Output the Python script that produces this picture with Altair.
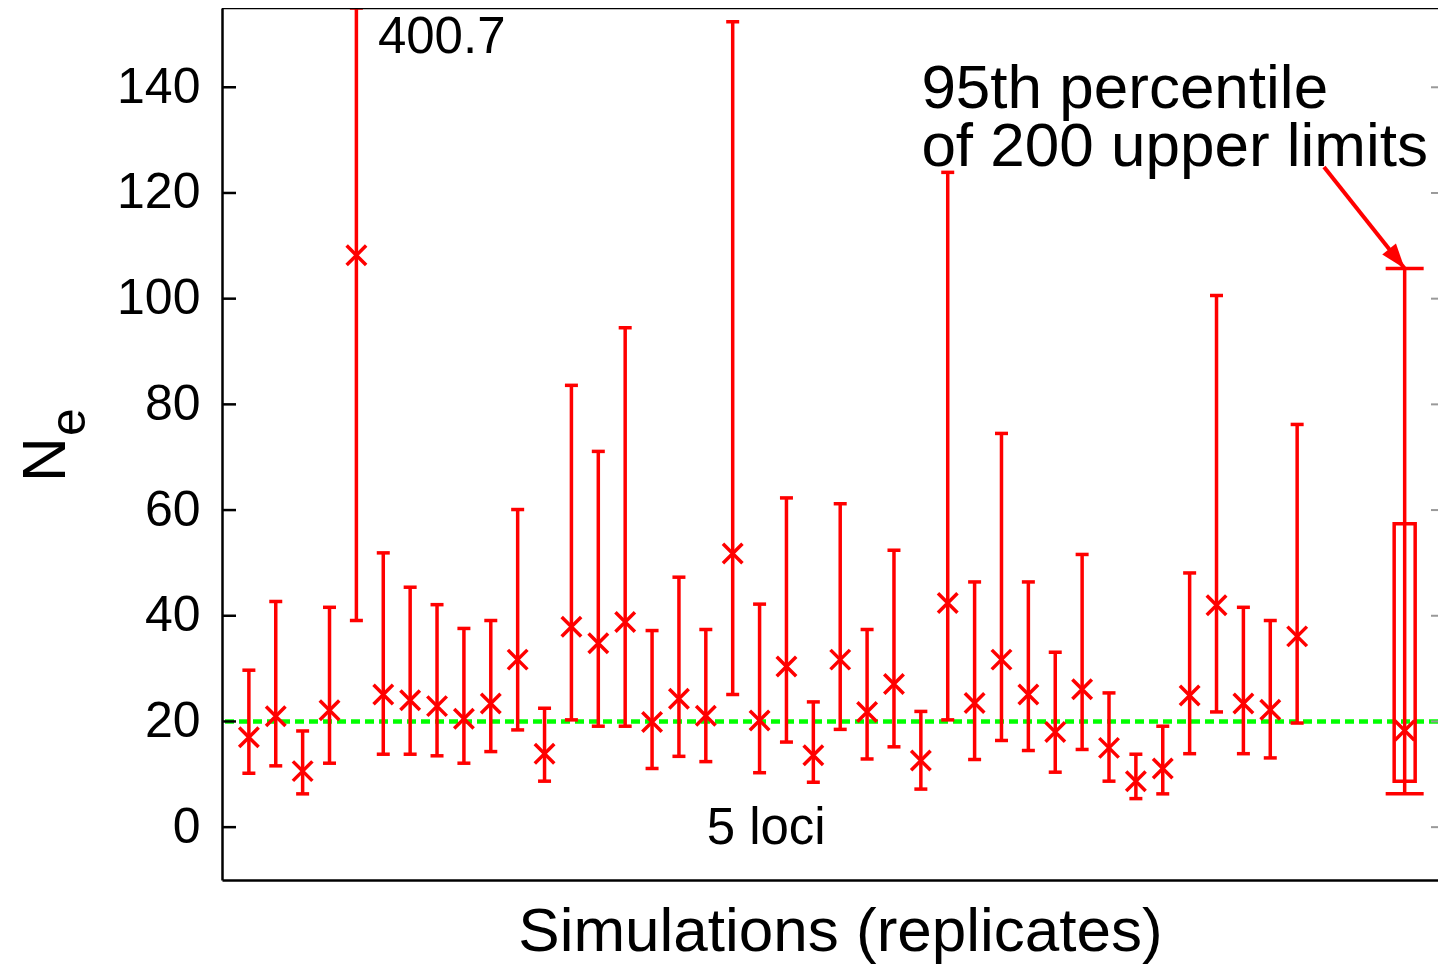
import altair as alt
import pandas as pd

# ---------------- data ----------------
replicate = list(range(1, 41))
ne_point = [17.0, 21.0, 10.6, 22.1, 108.2, 25.1, 24.0, 22.9, 20.5, 23.4,
            31.7, 13.9, 37.9, 34.8, 38.8, 19.9, 24.3, 21.1, 51.8, 20.2,
            30.4, 13.6, 31.7, 21.8, 27.1, 12.6, 42.4, 23.5, 31.7, 25.1,
            18.0, 26.1, 15.0, 8.7, 11.1, 24.9, 42.0, 23.4, 22.2, 36.1]
ne_lower = [10.2, 11.6, 6.3, 12.1, 39.1, 13.8, 13.8, 13.5, 12.1, 14.3,
            18.4, 8.7, 20.3, 19.1, 19.1, 11.1, 13.4, 12.4, 25.1, 10.3,
            16.1, 8.5, 18.5, 12.9, 15.2, 7.2, 20.3, 12.8, 16.4, 14.5,
            10.4, 14.7, 8.7, 5.4, 6.3, 13.9, 21.8, 13.9, 13.1, 19.7]
ne_upper = [29.7, 42.7, 18.2, 41.6, 400.7, 51.9, 45.4, 42.1, 37.6, 39.1,
            60.1, 22.5, 83.6, 71.1, 94.5, 37.2, 47.3, 37.4, 152.4, 42.2,
            62.3, 23.7, 61.2, 37.4, 52.4, 21.9, 123.9, 46.4, 74.5, 46.4,
            33.1, 51.6, 25.4, 13.8, 19.1, 48.1, 100.6, 41.6, 39.1, 76.2]

summary_pos = [44]
summary_median = [18.3]
summary_box_low = [8.7]
summary_box_high = [57.4]
summary_whisker_low = [6.3]
summary_whisker_high = [105.7]

true_ne = [20]
y_ticks = [0, 20, 40, 60, 80, 100, 120, 140]

arrow_from = [41.0, 124.9]
arrow_to = [44, 105.7]

small_labels = [f"{ne_upper[4]}", "5 loci"]
small_x = [5.80, 18.03]
small_y = [146.5, -3.2]
big_labels = ["95th percentile", "of 200 upper limits"]
big_x = [26.02, 26.02]
big_y = [136.0, 125.1]

# ---------------- styling ----------------
W, H = 1216, 872
RED = "#ff0000"
GREEN = "#00ff00"
FONT = "Liberation Sans"
XPATH = "M-1,-1L1,1M-1,1L1,-1"
ARROW = "M0,0L0.35,1L-0.35,1Z"
LW = 3.5

xs = alt.Scale(domain=[0, 45.24], nice=False, zero=False, padding=0)
ys = alt.Scale(domain=[-10, 155], nice=False, zero=False, clamp=True, padding=0)

x_axis = alt.Axis(
    orient="bottom", labels=False, ticks=False, tickSize=0, grid=False,
    domain=True, domainColor="black", domainWidth=2.5,
    title="Simulations (replicates)", titleFont=FONT, titleFontSize=62,
    titleFontWeight="normal", titleColor="black", titlePadding=21,
    titleX=618, titleAlign="center")
y_axis = alt.Axis(
    orient="left", values=y_ticks, grid=False, ticks=False, tickSize=0,
    labelFont=FONT, labelFontSize=50, labelColor="black", labelPadding=22,
    domain=True, domainColor="black", domainWidth=2.5, title=None)

df = pd.DataFrame({"rep": replicate, "ne": ne_point, "lo": ne_lower, "hi": ne_upper})
sm = pd.DataFrame({"rep": summary_pos, "med": summary_median,
                   "blo": summary_box_low, "bhi": summary_box_high,
                   "wlo": summary_whisker_low, "whi": summary_whisker_high})
gdf = pd.DataFrame({"y": true_ne})
adf = pd.DataFrame({"x": [arrow_from[0]], "y": [arrow_from[1]],
                    "x2": [arrow_to[0]], "y2": [arrow_to[1]]})
sdf = pd.DataFrame({"x": small_x, "y": small_y, "label": small_labels})
bdf = pd.DataFrame({"x": big_x, "y": big_y, "label": big_labels})
tdf = pd.DataFrame({"t": y_ticks})
one = pd.DataFrame({"a": [0]})


def X(field):
    return alt.X(field, type="quantitative", scale=xs, axis=x_axis,
                 title="Simulations (replicates)")


def Y(field):
    return alt.Y(field, type="quantitative", scale=ys, axis=y_axis, title=None)


green = alt.Chart(gdf).mark_rule(color=GREEN, strokeWidth=4.5, strokeDash=[9, 5]).encode(
    y=Y("y")
)

bars = alt.Chart(df).mark_rule(color=RED, strokeWidth=LW).encode(
    x=X("rep"), y=Y("lo"), y2="hi:Q")
cap_lo = alt.Chart(df).mark_tick(orient="horizontal", size=13, thickness=LW,
                                 color=RED, opacity=1).encode(x=X("rep"), y=Y("lo"))
cap_hi = alt.Chart(df).mark_tick(orient="horizontal", size=13, thickness=LW,
                                 color=RED, opacity=1).encode(x=X("rep"), y=Y("hi"))
pts = alt.Chart(df).mark_point(shape=XPATH, size=380, filled=False, strokeWidth=LW,
                               color=RED, opacity=1).encode(x=X("rep"), y=Y("ne"))

box = alt.Chart(sm).mark_bar(size=21, filled=False, color=RED, strokeWidth=LW).encode(
    x=X("rep"), y=Y("blo"), y2="bhi:Q")
whisk = alt.Chart(sm).mark_rule(color=RED, strokeWidth=LW).encode(
    x=X("rep"), y=Y("wlo"), y2="whi:Q")
wcap_lo = alt.Chart(sm).mark_tick(orient="horizontal", size=38, thickness=LW,
                                  color=RED, opacity=1).encode(x=X("rep"), y=Y("wlo"))
wcap_hi = alt.Chart(sm).mark_tick(orient="horizontal", size=38, thickness=LW,
                                  color=RED, opacity=1).encode(x=X("rep"), y=Y("whi"))
med = alt.Chart(sm).mark_point(shape=XPATH, size=380, filled=False, strokeWidth=LW,
                               color=RED, opacity=1).encode(x=X("rep"), y=Y("med"))

arrow_line = alt.Chart(adf).mark_rule(color=RED, strokeWidth=4).encode(
    x=X("x"), y=Y("y"), x2="x2:Q", y2="y2:Q")
arrow_head = alt.Chart(adf).mark_point(shape=ARROW, size=2500, filled=True, color=RED,
                                       opacity=1, angle=141.5, strokeWidth=0).encode(
    x=X("x2"), y=Y("y2"))

small_text = alt.Chart(sdf).mark_text(font=FONT, fontSize=51, align="left",
                                      baseline="alphabetic", color="black").encode(
    x=X("x"), y=Y("y"), text="label:N")
big_text = alt.Chart(bdf).mark_text(font=FONT, fontSize=62, align="left",
                                    baseline="alphabetic", color="black").encode(
    x=X("x"), y=Y("y"), text="label:N")

ticks_left = alt.Chart(tdf).mark_rule(color="black", strokeWidth=2.5).encode(
    y=Y("t"), x=alt.value(0), x2=alt.value(14))
ticks_right = alt.Chart(tdf).mark_rule(color="#999999", strokeWidth=2).encode(
    y=Y("t"), x=alt.value(W - 7), x2=alt.value(W))
top_border = alt.Chart(one).mark_rule(color="black", strokeWidth=2.5).encode(
    x=alt.value(0), x2=alt.value(W), y=alt.value(0))

title_n = alt.Chart(one).mark_text(text="N", angle=270, font=FONT, fontSize=62,
                                   align="center", baseline="alphabetic",
                                   color="black").encode(
    x=alt.value(-157), y=alt.value(451.5))
title_e = alt.Chart(one).mark_text(text="e", angle=270, font=FONT, fontSize=50,
                                   align="center", baseline="alphabetic",
                                   color="black").encode(
    x=alt.value(-137), y=alt.value(414))

chart = alt.layer(
    green, bars, cap_lo, cap_hi, pts,
    box, whisk, wcap_lo, wcap_hi, med,
    arrow_line, arrow_head, small_text, big_text,
    ticks_left, ticks_right, top_border, title_n, title_e,
).properties(
    width=W, height=H,
    autosize=alt.AutoSizeParams(type="none"),
    padding={"left": 214, "top": 0, "right": 0, "bottom": 84},
    background="white",
).configure_view(stroke=None)

chart.save("out.html", embed_options={"renderer": "svg", "actions": False})
